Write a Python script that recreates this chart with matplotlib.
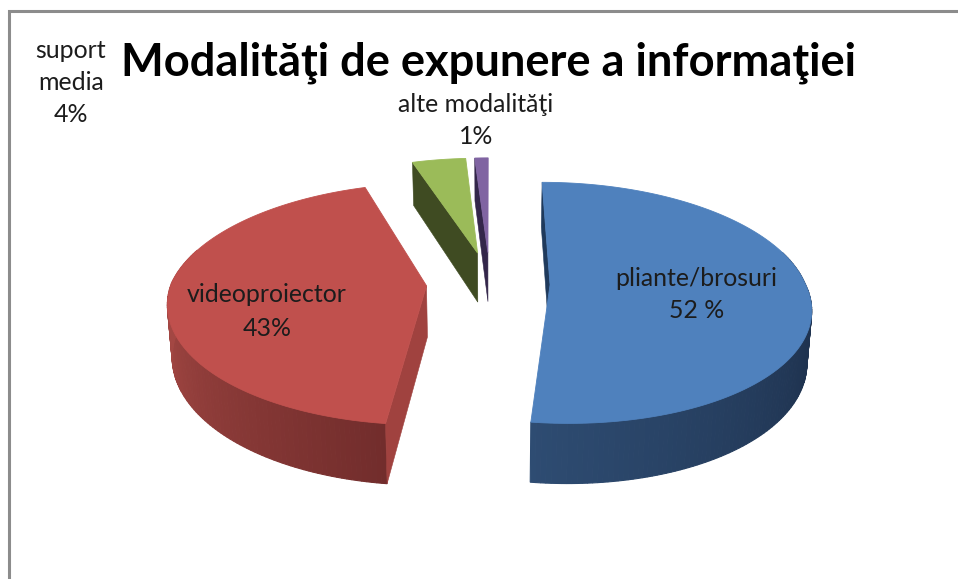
import matplotlib
matplotlib.use("Agg")
import matplotlib.pyplot as plt
import numpy as np
from matplotlib.colors import to_rgb

plt.rcParams['font.family'] = ['Lato', 'DejaVu Sans']

title = "Modalităţi de expunere a informaţiei"
categories = ["pliante/brosuri", "videoproiector", "suport media", "alte modalităţi"]
values = [52, 43, 4, 1]
explode = [0.235, 0.25, 0.27, 0.27]
top_colors = ["#4F81BD", "#C0504D", "#9BBB59", "#8064A2"]
wall_corner = ["#2E4C72", "#722D2C", "#3F4B22", "#3D2F55"]
wall_rim = ["#1F3350", "#A34743", "#3F4B22", "#3D2F55"]
side_colors = ["#1F3A5C", "#A0423F", "#3F4B22", "#33264A"]

# projection of the pie plane to pixels
X0, Y0 = 490, 283
RX, RY, K = 255, 117.3, 0.15
SKEW = 8
DEPTH = 51


def project(u, v):
	w = 1 + K * v
	# near half leans a little to the right in the reference
	return X0 + RX * u / w + SKEW * np.maximum(-v, 0), Y0 - RY * v / w


def drop(x, y, v):
	# same point on the lower rim of the pie
	return X0 + (x - X0) * 0.985, y + DEPTH / (1 + K * v)


def mix(c1, c2, t):
	return tuple(a + (b - a) * t for a, b in zip(to_rgb(c1), to_rgb(c2)))


fig = plt.figure(figsize=(9.58, 5.79), dpi=100)
ax = fig.add_axes([0, 0, 1, 1])
ax.set_xlim(0, 958)
ax.set_ylim(579, 0)
ax.axis("off")

# chart frame, runs off the picture at right and bottom
ax.plot([9, 9, 958], [579, 11, 11], color="#8C8C8C", lw=2.2, solid_joinstyle="miter", zorder=1)

fractions = np.array(values) / sum(values)
starts = np.concatenate([[0], np.cumsum(fractions)[:-1]]) * 2 * np.pi
ends = np.cumsum(fractions) * 2 * np.pi
corner = ends[0]

# far slices first so the near ones cover them
for i in [3, 2, 1, 0]:
	z = 10 + (3 - i) * 3
	mid = (starts[i] + ends[i]) / 2
	ou = explode[i] * np.sin(mid)
	ov = explode[i] * np.cos(mid)
	th = np.linspace(starts[i], ends[i], max(int(np.degrees(ends[i] - starts[i])), 3))
	u = ou + np.sin(th)
	v = ov + np.cos(th)
	x, y = project(u, v)
	bx, by = drop(x, y, v)

	# outer wall, one strip per step for the shading, far arc is never seen
	for j in range(len(th) - 1):
		if np.cos(th[j]) > 0.3:
			continue
		t = min(abs(th[j] - corner) / np.radians(75), 1)
		c = mix(wall_corner[i], wall_rim[i], t)
		ax.fill([x[j], x[j + 1], bx[j + 1], bx[j]], [y[j], y[j + 1], by[j + 1], by[j]],
			color=c, lw=0.8, zorder=z)

	# cut face on the leading edge
	ax_, ay_ = project(ou, ov)
	abx, aby = drop(ax_, ay_, ov)
	ax.fill([ax_, x[0], bx[0], abx], [ay_, y[0], by[0], aby], color=side_colors[i], lw=0.4, zorder=z + 1)

	ax.fill(np.r_[ax_, x], np.r_[ay_, y], color=top_colors[i], lw=0.6, zorder=z + 2)

ax.text(489, 63, title, fontsize=32.6, fontweight="bold", color="#000000", ha="center", va="center", zorder=30)

label_color = "#1C1C1C"
ax.text(696, 278, categories[0], fontsize=17.9, color=label_color, ha="center", va="center", zorder=30)
ax.text(697, 310, "52 %", fontsize=17.9, color=label_color, ha="center", va="center", zorder=30)
ax.text(267, 295, categories[1], fontsize=17.9, color=label_color, ha="center", va="center", zorder=30)
ax.text(267, 328, "43%", fontsize=17.9, color=label_color, ha="center", va="center", zorder=30)
ax.text(71, 50, "suport", fontsize=17.9, color=label_color, ha="center", va="center", zorder=30)
ax.text(71, 82, "media", fontsize=17.9, color=label_color, ha="center", va="center", zorder=30)
ax.text(71, 114, "4%", fontsize=17.9, color=label_color, ha="center", va="center", zorder=30)
ax.text(476, 104, categories[3], fontsize=17.9, color=label_color, ha="center", va="center", zorder=30)
ax.text(476, 136, "1%", fontsize=17.9, color=label_color, ha="center", va="center", zorder=30)

fig.savefig("out.png", dpi=100)
